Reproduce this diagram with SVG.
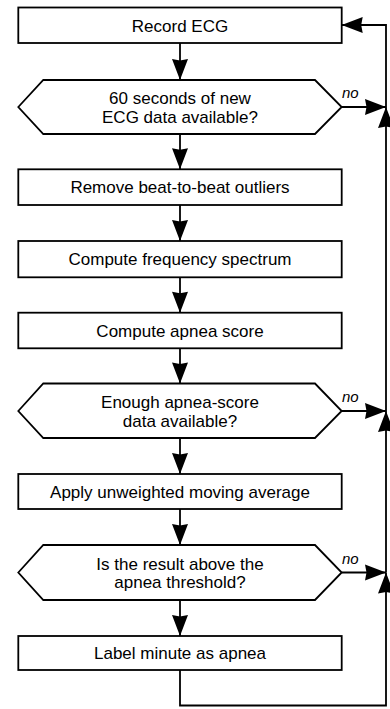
<svg xmlns="http://www.w3.org/2000/svg" width="390" height="709" viewBox="0 0 390 709">
<defs>
<style>
.box{fill:#fff;stroke:#000;stroke-width:1.8}
.t{font-family:"Liberation Sans",Arial,sans-serif;font-size:17px;fill:#000;text-anchor:middle}
.no{font-family:"Liberation Sans",Arial,sans-serif;font-size:15px;font-style:italic;fill:#000}
.c{fill:none;stroke:#000;stroke-width:1.8}
</style>
<marker id="ah" markerUnits="userSpaceOnUse" markerWidth="21" markerHeight="16" viewBox="0 0 21 16" refX="21" refY="8" orient="auto" overflow="visible">
<path d="M0,0 L21,8 L0,16 L1.5,8 Z" fill="#000"/>
</marker>
</defs>
<rect width="390" height="709" fill="#fff"/>
<g id="connectors">
<line class="c" x1="180" y1="43" x2="180" y2="80" marker-end="url(#ah)"/>
<line class="c" x1="180" y1="134" x2="180" y2="169.3" marker-end="url(#ah)"/>
<line class="c" x1="180" y1="205" x2="180" y2="241" marker-end="url(#ah)"/>
<line class="c" x1="180" y1="277.3" x2="180" y2="312.7" marker-end="url(#ah)"/>
<line class="c" x1="180" y1="348.3" x2="180" y2="383.5" marker-end="url(#ah)"/>
<line class="c" x1="180" y1="438" x2="180" y2="474" marker-end="url(#ah)"/>
<line class="c" x1="180" y1="509" x2="180" y2="545" marker-end="url(#ah)"/>
<line class="c" x1="180" y1="600" x2="180" y2="636" marker-end="url(#ah)"/>
<line class="c" x1="341.7" y1="107" x2="386" y2="107" marker-end="url(#ah)"/>
<line class="c" x1="341.7" y1="411" x2="386" y2="411" marker-end="url(#ah)"/>
<line class="c" x1="341.7" y1="572.5" x2="386" y2="572.5" marker-end="url(#ah)"/>
<polyline class="c" points="180,670 180,705.5 386,705.5 386,572.5" marker-end="url(#ah)"/>
<line class="c" x1="386" y1="572.5" x2="386" y2="411" marker-end="url(#ah)"/>
<line class="c" x1="386" y1="411" x2="386" y2="107" marker-end="url(#ah)"/>
<polyline class="c" points="386,107 386,25 341.7,25" marker-end="url(#ah)"/>
<text class="no" x="342" y="98">no</text>
<text class="no" x="342" y="402">no</text>
<text class="no" x="342" y="563.5">no</text>
</g>
<g id="record">
<rect class="box" x="18.3" y="7.5" width="323.4" height="35.5"/>
<text class="t" x="180" y="31.5">Record ECG</text>
</g>
<g id="check60">
<polygon class="box" points="18.3,107 43.3,80 315,80 341.7,107 315,134 43.3,134"/>
<text class="t" x="180" y="104.3">60 seconds of new</text>
<text class="t" x="180" y="122.7">ECG data available?</text>
</g>
<g id="outliers">
<rect class="box" x="18.3" y="169.3" width="323.4" height="35.7"/>
<text class="t" x="180" y="193.3">Remove beat-to-beat outliers</text>
</g>
<g id="spectrum">
<rect class="box" x="18.3" y="241" width="323.4" height="36.3"/>
<text class="t" x="180" y="265.3">Compute frequency spectrum</text>
</g>
<g id="score">
<rect class="box" x="18.3" y="312.7" width="323.4" height="35.6"/>
<text class="t" x="180" y="336.5">Compute apnea score</text>
</g>
<g id="enough">
<polygon class="box" points="18.3,411 43.3,383.5 315,383.5 341.7,411 315,438 43.3,438"/>
<text class="t" x="180" y="408.3">Enough apnea-score</text>
<text class="t" x="180" y="426.7">data available?</text>
</g>
<g id="average">
<rect class="box" x="18.3" y="474" width="323.4" height="35"/>
<text class="t" x="180" y="497.5">Apply unweighted moving average</text>
</g>
<g id="threshold">
<polygon class="box" points="18.3,572.5 43.3,545 315,545 341.7,572.5 315,600 43.3,600"/>
<text class="t" x="180" y="569.8">Is the result above the</text>
<text class="t" x="180" y="588.2">apnea threshold?</text>
</g>
<g id="label">
<rect class="box" x="18.3" y="636" width="323.4" height="34"/>
<text class="t" x="180" y="659">Label minute as apnea</text>
</g>
</svg>
